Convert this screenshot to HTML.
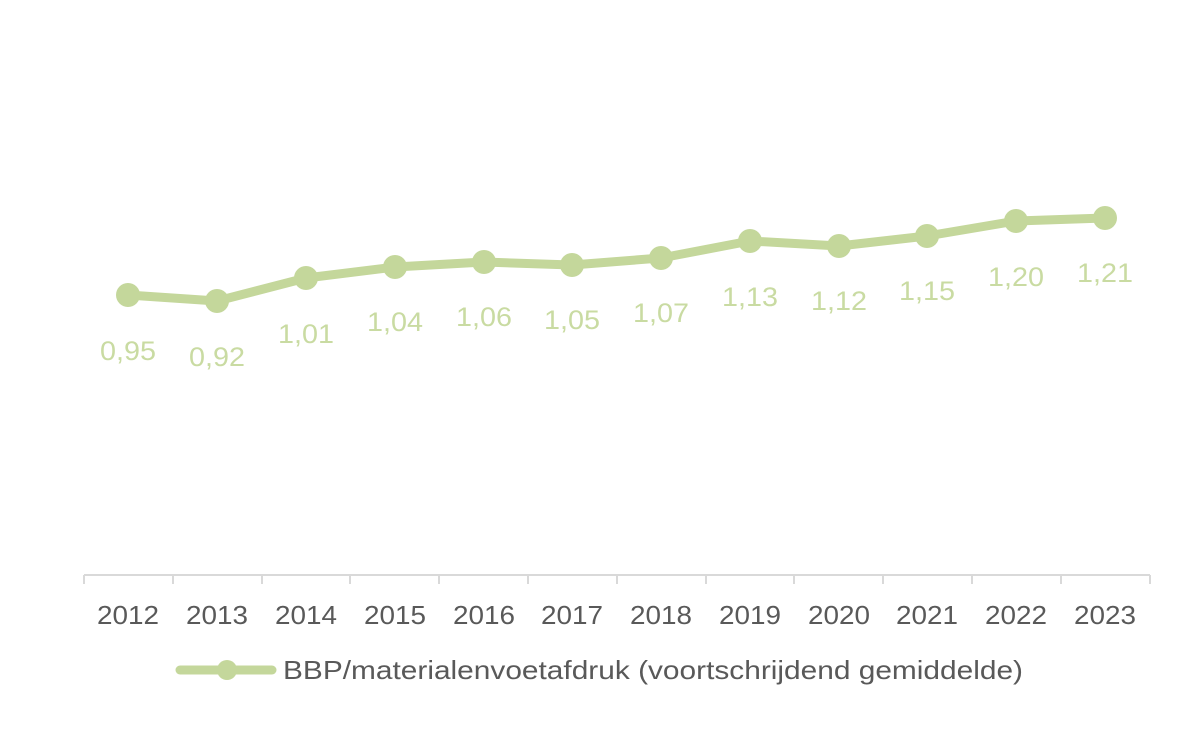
<!DOCTYPE html>
<html><head><style>body{margin:0;background:#fff}</style></head><body>
<svg width="1185" height="740" xmlns="http://www.w3.org/2000/svg" font-family="Liberation Sans, sans-serif">
<rect width="1185" height="740" fill="#fff"/>
<g stroke="#d9d9d9" stroke-width="2">
<line x1="84" y1="575" x2="1150" y2="575"/>
<line x1="84" y1="575" x2="84" y2="584"/><line x1="173" y1="575" x2="173" y2="584"/><line x1="262" y1="575" x2="262" y2="584"/><line x1="350" y1="575" x2="350" y2="584"/><line x1="439" y1="575" x2="439" y2="584"/><line x1="528" y1="575" x2="528" y2="584"/><line x1="617" y1="575" x2="617" y2="584"/><line x1="706" y1="575" x2="706" y2="584"/><line x1="794" y1="575" x2="794" y2="584"/><line x1="883" y1="575" x2="883" y2="584"/><line x1="972" y1="575" x2="972" y2="584"/><line x1="1061" y1="575" x2="1061" y2="584"/><line x1="1150" y1="575" x2="1150" y2="584"/>
</g>
<polyline fill="none" stroke="#c4d79b" stroke-width="9" stroke-linejoin="round" points="128,295 217,301 306,278 395,267 484,262 572,265 661,258 750,241 839,246 927,236 1016,221 1105,218"/>
<g fill="#c4d79b">
<circle cx="128" cy="295" r="12"/><circle cx="217" cy="301" r="12"/><circle cx="306" cy="278" r="12"/><circle cx="395" cy="267" r="12"/><circle cx="484" cy="262" r="12"/><circle cx="572" cy="265" r="12"/><circle cx="661" cy="258" r="12"/><circle cx="750" cy="241" r="12"/><circle cx="839" cy="246" r="12"/><circle cx="927" cy="236" r="12"/><circle cx="1016" cy="221" r="12"/><circle cx="1105" cy="218" r="12"/>
</g>
<g fill="#c9dba2" font-size="27" text-anchor="middle">
<text x="128" y="360" textLength="56" lengthAdjust="spacingAndGlyphs">0,95</text><text x="217" y="366" textLength="56" lengthAdjust="spacingAndGlyphs">0,92</text><text x="306" y="343" textLength="56" lengthAdjust="spacingAndGlyphs">1,01</text><text x="395" y="331" textLength="56" lengthAdjust="spacingAndGlyphs">1,04</text><text x="484" y="326" textLength="56" lengthAdjust="spacingAndGlyphs">1,06</text><text x="572" y="329" textLength="56" lengthAdjust="spacingAndGlyphs">1,05</text><text x="661" y="322" textLength="56" lengthAdjust="spacingAndGlyphs">1,07</text><text x="750" y="306" textLength="56" lengthAdjust="spacingAndGlyphs">1,13</text><text x="839" y="310" textLength="56" lengthAdjust="spacingAndGlyphs">1,12</text><text x="927" y="300" textLength="56" lengthAdjust="spacingAndGlyphs">1,15</text><text x="1016" y="286" textLength="56" lengthAdjust="spacingAndGlyphs">1,20</text><text x="1105" y="282" textLength="56" lengthAdjust="spacingAndGlyphs">1,21</text>
</g>
<g fill="#595959" font-size="26" text-anchor="middle">
<text x="128" y="624" textLength="62" lengthAdjust="spacingAndGlyphs">2012</text><text x="217" y="624" textLength="62" lengthAdjust="spacingAndGlyphs">2013</text><text x="306" y="624" textLength="62" lengthAdjust="spacingAndGlyphs">2014</text><text x="395" y="624" textLength="62" lengthAdjust="spacingAndGlyphs">2015</text><text x="484" y="624" textLength="62" lengthAdjust="spacingAndGlyphs">2016</text><text x="572" y="624" textLength="62" lengthAdjust="spacingAndGlyphs">2017</text><text x="661" y="624" textLength="62" lengthAdjust="spacingAndGlyphs">2018</text><text x="750" y="624" textLength="62" lengthAdjust="spacingAndGlyphs">2019</text><text x="839" y="624" textLength="62" lengthAdjust="spacingAndGlyphs">2020</text><text x="927" y="624" textLength="62" lengthAdjust="spacingAndGlyphs">2021</text><text x="1016" y="624" textLength="62" lengthAdjust="spacingAndGlyphs">2022</text><text x="1105" y="624" textLength="62" lengthAdjust="spacingAndGlyphs">2023</text>
</g>
<line x1="180" y1="670" x2="272" y2="670" stroke="#c4d79b" stroke-width="9" stroke-linecap="round"/>
<circle cx="227" cy="670" r="10" fill="#c4d79b"/>
<text x="283" y="679" fill="#595959" font-size="26" textLength="740" lengthAdjust="spacingAndGlyphs">BBP/materialenvoetafdruk (voortschrijdend gemiddelde)</text>
</svg>
</body></html>
